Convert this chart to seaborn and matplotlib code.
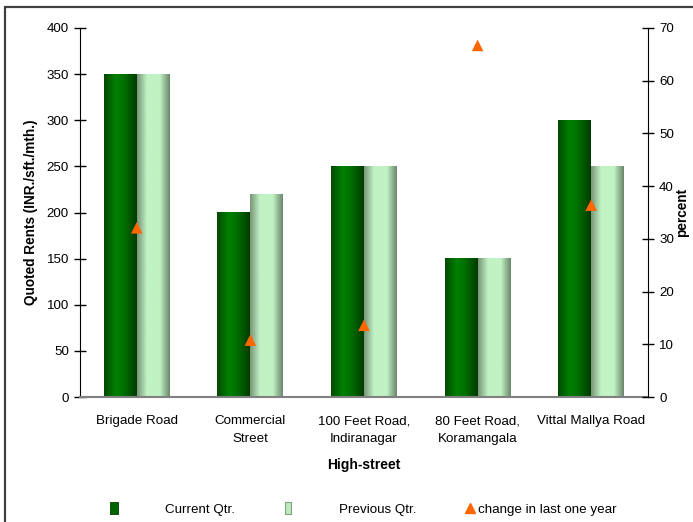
import numpy as np
import pandas as pd
import matplotlib
matplotlib.use('Agg')
import matplotlib.pyplot as plt
from matplotlib.lines import Line2D
from matplotlib.colors import LinearSegmentedColormap
import seaborn as sns

streets = ['Brigade Road', 'Commercial\nStreet', '100 Feet Road,\nIndiranagar',
           '80 Feet Road,\nKoramangala', 'Vittal Mallya Road']
current_qtr = [350, 200, 250, 150, 300]
previous_qtr = [350, 220, 250, 150, 250]
change_pct = [32.1, 10.8, 13.6, 66.7, 36.4]

series = ['Current Qtr.', 'Previous Qtr.']

df = pd.DataFrame({
    'street': streets * 2,
    'rent': current_qtr + previous_qtr,
    'series': [series[0]] * len(streets) + [series[1]] * len(streets),
})

sns.set_style('white')
plt.rcParams['font.family'] = ['Liberation Sans', 'DejaVu Sans']
plt.rcParams['font.size'] = 9.6
plt.rcParams['text.color'] = 'black'
plt.rcParams['axes.labelcolor'] = 'black'
plt.rcParams['xtick.color'] = 'black'
plt.rcParams['ytick.color'] = 'black'

fig = plt.figure(figsize=(6.93, 5.22), dpi=100)
ax = fig.add_axes([80/693, 125/522, 568/693, 369/522])

dark_base, light_base = '#007a00', '#c0f2c4'
sns.barplot(data=df, x='street', y='rent', hue='series', hue_order=series,
            palette=[dark_base, light_base], width=0.58, gap=0,
            legend=False, ax=ax, linewidth=0, saturation=1)

# cylinder-like horizontal gradients on bars
dark_cmap = LinearSegmentedColormap.from_list('d', [(0, '#004a00'), (0.35, '#008000'),
                                                     (0.6, '#007000'), (1, '#003c00')])
light_cmap = LinearSegmentedColormap.from_list('l', [(0, '#7a977a'), (0.3, '#c0f2c4'),
                                                      (0.7, '#c0f2c4'), (1, '#6c876c')])
grad = np.linspace(0, 1, 64).reshape(1, -1)
for p in list(ax.patches):
    x, w, h = p.get_x(), p.get_width(), p.get_height()
    fc = p.get_facecolor()
    cmap = dark_cmap if fc[1] < 0.7 else light_cmap
    ax.imshow(grad, cmap=cmap, extent=[x, x + w, 0, h], aspect='auto',
              zorder=p.get_zorder() + 0.1, interpolation='bilinear')

ax.set_xlim(-0.5, len(streets) - 0.5)
ax.set_ylim(0, 400)
ax.set_yticks(range(0, 401, 50))
ax.set_xticks(range(len(streets)))
ax.set_xticklabels(streets, linespacing=1.7)
ax.set_xticks(np.arange(-0.5, len(streets), 1), minor=True)
ax.tick_params(axis='x', which='major', length=0, pad=13, labelsize=9.6)
ax.tick_params(axis='x', which='minor', direction='inout', length=8, width=1, color='black')
ax.tick_params(axis='y', direction='inout', length=8, width=1, color='black',
               left=True, pad=4, labelsize=9.6)
ax.set_xlabel('High-street', fontweight='bold', fontsize=10, labelpad=9)
ax.set_ylabel('Quoted Rents (INR./sft./mth.)', fontweight='bold', fontsize=9.8, labelpad=6)
ax.spines['top'].set_visible(False)
ax.spines['right'].set_visible(False)
ax.spines['left'].set_color('black')
ax.spines['bottom'].set_color('#808080')
ax.spines['bottom'].set_linewidth(1.5)

ax2 = ax.twinx()
ax2.scatter(range(len(streets)), change_pct, marker='^', s=70, color='#ff6600',
            edgecolors='none', zorder=5, clip_on=False)
ax2.set_ylim(0, 70)
ax2.set_yticks(range(0, 71, 10))
ax2.tick_params(axis='y', direction='inout', length=8, width=1, color='black',
                right=True, pad=4, labelsize=9.6)
ax2.set_ylabel('percent', fontweight='bold', fontsize=9.8, labelpad=1)
for s in ['top', 'left', 'bottom']:
    ax2.spines[s].set_visible(False)
ax2.spines['right'].set_color('black')
ax2.grid(False)

# legend
tall_rect = [(-0.35, -0.5), (0.35, -0.5), (0.35, 0.5), (-0.35, 0.5), (-0.35, -0.5)]
narrow_rect = [(-0.28, -0.5), (0.28, -0.5), (0.28, 0.5), (-0.28, 0.5), (-0.28, -0.5)]
bar_handles = [
    Line2D([], [], marker=tall_rect, ls='', markersize=8, markerfacecolor='#006400',
           markeredgecolor='#004000', markeredgewidth=0.6),
    Line2D([], [], marker=narrow_rect, ls='', markersize=8, markerfacecolor='#c0e8c0',
           markeredgecolor='#7fa57f', markeredgewidth=0.8),
]
fig.legend(bar_handles, series, loc='center left', bbox_to_anchor=(101/693, 12/522),
           ncol=2, frameon=False, handlelength=2, handletextpad=2.8,
           columnspacing=3.0, borderpad=0, borderaxespad=0, fontsize=9.6)
tri_handle = [Line2D([], [], marker='^', ls='', markersize=7, color='#ff6600')]
fig.legend(tri_handle, ['change in last one year'], loc='center left',
           bbox_to_anchor=(463/693, 12/522), frameon=False, handlelength=1,
           handletextpad=0.1, borderpad=0, borderaxespad=0, fontsize=9.6)

# outer frame lines
fig.add_artist(Line2D([4.5/693, 4.5/693], [0, 1 - 7/522], color='#404040', lw=1.6))
fig.add_artist(Line2D([4.5/693, 1], [1 - 7/522, 1 - 7/522], color='#404040', lw=1.6))

fig.savefig('out.png', dpi=100)
